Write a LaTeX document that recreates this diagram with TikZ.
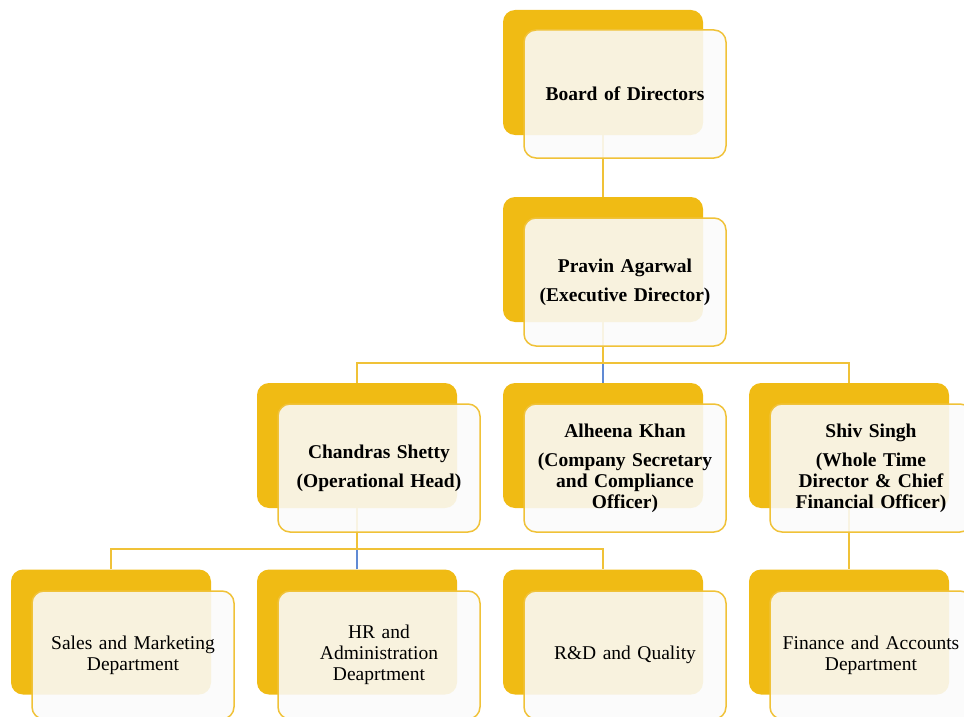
\documentclass[tikz,border=0pt]{standalone}
\usepackage{fontspec}
\setmainfont{Liberation Serif}
\definecolor{gold}{RGB}{240,187,20}
\definecolor{goldline}{RGB}{240,194,56}
\definecolor{paper}{RGB}{250,250,250}
\definecolor{linkblue}{RGB}{96,138,212}
\tikzset{
  backbox/.style={fill=gold, rounded corners=12pt, minimum width=200pt, minimum height=125pt, inner sep=0pt},
  frontbox/.style={draw=goldline, line width=1.5pt, fill=paper, fill opacity=0.88, text opacity=1, rounded corners=12pt,
    minimum width=202pt, minimum height=128pt, text width=194pt, inner sep=3pt, align=center, font=\fontsize{19.5}{21}\selectfont},
  headbox/.style={frontbox, font=\fontsize{19.5}{21}\selectfont\bfseries},
  orgline/.style={draw=goldline, line width=2pt},
  midline/.style={draw=linkblue, line width=1.6pt}
}

\begin{document}
\begin{tikzpicture}[x=1pt, y=-1pt]
				\clip (0,0) rectangle (964,717);
				% back boxes
				\node[backbox] (bod-b) at (603,72.5) {};
				\node[backbox] (pravin-b) at (603,259.5) {};
				\node[backbox] (chandras-b) at (357,445.5) {};
				\node[backbox] (alheena-b) at (603,445.5) {};
				\node[backbox] (shiv-b) at (849,445.5) {};
				\node[backbox] (sales-b) at (111,632) {};
				\node[backbox] (hr-b) at (357,632) {};
				\node[backbox] (rnd-b) at (603,632) {};
				\node[backbox] (finance-b) at (849,632) {};
				% connectors
				\draw[orgline] (bod-b.south) -- (pravin-b.north);
				\draw[orgline] (pravin-b.south) -- ++(0,41);
				\draw[orgline] (chandras-b.north) -- ++(0,-20) -| (shiv-b.north);
				\draw[midline] (alheena-b.north) -- ++(0,-19);
				\draw[orgline] (chandras-b.south) -- ++(0,41);
				\draw[orgline] (sales-b.north) -- ++(0,-20) -| (rnd-b.north);
				\draw[midline] (hr-b.north) -- ++(0,-19);
				\draw[orgline] (shiv-b.south) -- (finance-b.north);
				% front boxes
				\node[headbox] (bod) at (625,94) {Board of Directors};
				\node[headbox] (pravin) at (625,282) {Pravin Agarwal\\[8pt](Executive Director)};
				\node[headbox] (chandras) at (379,468) {Chandras Shetty\\[8pt](Operational Head)};
				\node[headbox] (alheena) at (625,468) {Alheena Khan\\[8pt](Company Secretary\\and Compliance\\Officer)};
				\node[headbox] (shiv) at (871,468) {Shiv Singh\\[8pt](Whole Time\\Director \& Chief\\Financial Officer)};
				\node[frontbox] (sales) at (133,655) {Sales and Marketing\\Department};
				\node[frontbox] (hr) at (379,655) {HR and\\Administration\\Deaprtment};
				\node[frontbox] (rnd) at (625,655) {R\&D and Quality};
				\node[frontbox] (finance) at (871,655) {Finance and Accounts\\Department};
			\end{tikzpicture}
\end{document}
